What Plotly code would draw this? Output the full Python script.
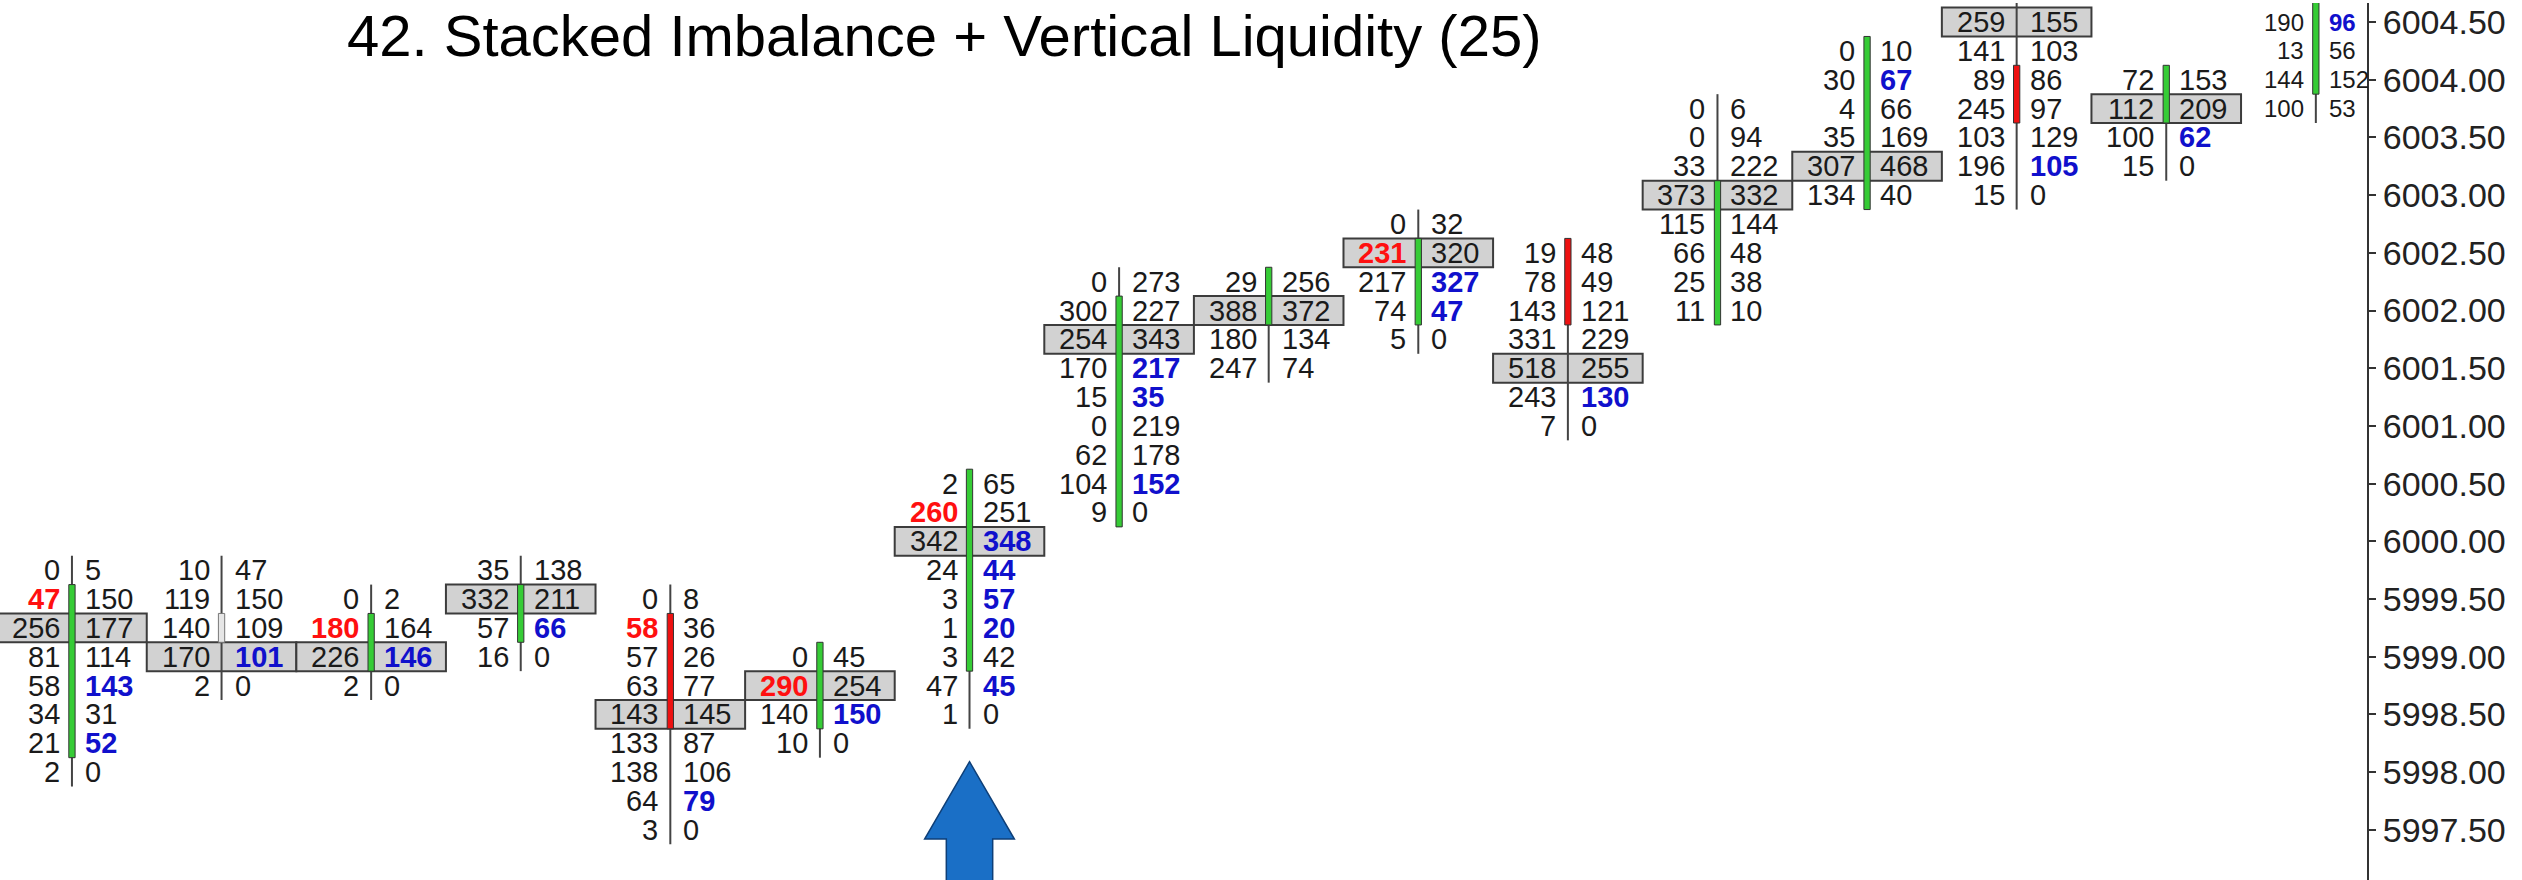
import plotly.graph_objects as go

TITLE = "42. Stacked Imbalance + Vertical Liquidity (25)"
TICK = 0.25

# price of the first (top) row of each footprint column
COL_TOP = [5999.75, 5999.75, 5999.50, 5999.75, 5999.50, 5999.00, 6000.50, 6002.25,
           6002.25, 6002.75, 6002.50, 6003.75, 6004.25, 6004.50, 6004.00, 6004.50]

BIDS = [
    [0, 47, 256, 81, 58, 34, 21, 2],
    [10, 119, 140, 170, 2],
    [0, 180, 226, 2],
    [35, 332, 57, 16],
    [0, 58, 57, 63, 143, 133, 138, 64, 3],
    [0, 290, 140, 10],
    [2, 260, 342, 24, 3, 1, 3, 47, 1],
    [0, 300, 254, 170, 15, 0, 62, 104, 9],
    [29, 388, 180, 247],
    [0, 231, 217, 74, 5],
    [19, 78, 143, 331, 518, 243, 7],
    [0, 0, 33, 373, 115, 66, 25, 11],
    [0, 30, 4, 35, 307, 134],
    [259, 141, 89, 245, 103, 196, 15],
    [72, 112, 100, 15],
    [190, 13, 144, 100],
]
ASKS = [
    [5, 150, 177, 114, 143, 31, 52, 0],
    [47, 150, 109, 101, 0],
    [2, 164, 146, 0],
    [138, 211, 66, 0],
    [8, 36, 26, 77, 145, 87, 106, 79, 0],
    [45, 254, 150, 0],
    [65, 251, 348, 44, 57, 20, 42, 45, 0],
    [273, 227, 343, 217, 35, 219, 178, 152, 0],
    [256, 372, 134, 74],
    [32, 320, 327, 47, 0],
    [48, 49, 121, 229, 255, 130, 0],
    [6, 94, 222, 332, 144, 48, 38, 10],
    [10, 67, 66, 169, 468, 40],
    [155, 103, 86, 97, 129, 105, 0],
    [153, 209, 62, 0],
    [96, 56, 152, 53],
]
# point of control (highlighted row) per column, None = not visible
POC = [5999.25, 5999.00, 5999.00, 5999.50, 5998.50, 5998.75, 6000.00, 6001.75,
       6002.00, 6002.50, 6001.50, 6003.00, 6003.25, 6004.50, 6003.75, None]

OPEN = [5998.25, 5999.25, 5999.00, 5999.25, 5999.25, 5998.50, 5999.00, 6000.25,
        6002.00, 6002.00, 6002.50, 6002.00, 6003.00, 6004.00, 6003.75, 6004.00]
CLOSE = [5999.50, 5999.25, 5999.25, 5999.50, 5998.50, 5999.00, 6000.50, 6002.00,
         6002.25, 6002.50, 6002.00, 6003.00, 6004.25, 6003.75, 6004.00, 6004.75]
HIGH = [5999.75, 5999.75, 5999.50, 5999.75, 5999.50, 5999.00, 6000.50, 6002.25,
        6002.25, 6002.75, 6002.50, 6003.75, 6004.25, 6004.75, 6004.00, 6004.75]
LOW = [5998.00, 5998.75, 5998.75, 5999.00, 5997.50, 5998.25, 5998.50, 6000.25,
       6001.50, 6001.75, 6001.00, 6002.00, 6003.00, 6003.00, 6003.25, 6003.75]

# highlighted (imbalance) rows, as indexes into each column's rows
RED_BID_ROWS = [[1], [], [1], [], [1], [1], [1], [], [], [1], [], [], [], [], [], []]
BLUE_ASK_ROWS = [[4, 6], [3], [2], [2], [7], [2], [2, 3, 4, 5, 7], [3, 4, 7], [],
                 [2, 3], [5], [], [1], [5], [2], [0]]

ARROW_COL = 6
ARROW_TIP = 5998.09

# ---- styles ----
FONT = "Liberation Sans, Arial, sans-serif"
TXT = "#1a1a1a"
RED = "#ff1010"
BLUE = "#1010cc"
GREEN = "#36cc36"
CANDLE_RED = "#ee1111"
EDGE = "#333333"
BOX_FILL = "#d2d2d2"
BOX_EDGE = "#3c3c3c"

fig = go.Figure()
fig.add_trace(go.Scatter(x=[0], y=[6000], mode="markers", marker=dict(opacity=0),
                         showlegend=False, hoverinfo="skip"))

shapes = []
annotations = []
n_cols = len(BIDS)
for i in range(n_cols):
    if POC[i] is not None:
        shapes.append(dict(type="rect", xref="x", yref="y", x0=i - 0.5, x1=i + 0.5,
                           y0=POC[i] - TICK / 2, y1=POC[i] + TICK / 2,
                           fillcolor=BOX_FILL, line=dict(color=BOX_EDGE, width=2)))
for i in range(n_cols):
    shapes.append(dict(type="line", xref="x", yref="y", x0=i, x1=i,
                       y0=LOW[i] - TICK / 2, y1=HIGH[i] + TICK / 2,
                       line=dict(color="#444444", width=2)))
    top = max(OPEN[i], CLOSE[i])
    bot = min(OPEN[i], CLOSE[i])
    if CLOSE[i] > OPEN[i]:
        fill, edge = GREEN, EDGE
    elif CLOSE[i] < OPEN[i]:
        fill, edge = CANDLE_RED, EDGE
    else:
        fill, edge = "#e6e6e6", "#777777"
    shapes.append(dict(type="rect", xref="x", yref="y", x0=i - 0.021, x1=i + 0.021,
                       y0=bot - TICK / 2, y1=top + TICK / 2,
                       fillcolor=fill, line=dict(color=edge, width=1)))

for i in range(n_cols):
    size = 24 if i == n_cols - 1 else 29
    for r, (b, a) in enumerate(zip(BIDS[i], ASKS[i])):
        p = COL_TOP[i] - r * TICK
        if r in RED_BID_ROWS[i]:
            bf = dict(family=FONT, size=size, color=RED, weight="bold")
        else:
            bf = dict(family=FONT, size=size, color=TXT)
        if r in BLUE_ASK_ROWS[i]:
            af = dict(family=FONT, size=size, color=BLUE, weight="bold")
        else:
            af = dict(family=FONT, size=size, color=TXT)
        annotations.append(dict(x=i, y=p, xref="x", yref="y", text=str(b), showarrow=False,
                                xanchor="right", yanchor="middle", xshift=-10, font=bf))
        annotations.append(dict(x=i, y=p, xref="x", yref="y", text=str(a), showarrow=False,
                                xanchor="left", yanchor="middle", xshift=11, font=af))

# blue arrow under the highlighted column
hw, sw = 0.30, 0.155
base = ARROW_TIP - 0.67
bottom = ARROW_TIP - 1.6
c = ARROW_COL
path = (f"M {c},{ARROW_TIP} L {c + hw},{base} L {c + sw},{base} L {c + sw},{bottom} "
        f"L {c - sw},{bottom} L {c - sw},{base} L {c - hw},{base} Z")
shapes.append(dict(type="path", xref="x", yref="y", path=path,
                   fillcolor="#1a6fc6", line=dict(color="#0e3f78", width=1.5)))

annotations.append(dict(x=0.399, y=0.9635, xref="paper", yref="paper", text=TITLE,
                        showarrow=False, xanchor="center", yanchor="middle",
                        font=dict(family=FONT, size=58, color="#000000")))

fig.update_layout(
    width=2522, height=880,
    margin=dict(l=0, r=155, t=3, b=0),
    paper_bgcolor="white", plot_bgcolor="white",
    showlegend=False,
    shapes=shapes, annotations=annotations,
    xaxis=dict(visible=False, range=[-0.481, 15.342], fixedrange=True),
    yaxis=dict(side="right", range=[5997.065, 6004.665], dtick=0.5, tick0=5997,
               tickformat=".2f", showgrid=False, zeroline=False,
               showline=True, linecolor=EDGE, linewidth=2,
               ticks="outside", ticklen=7, tickwidth=2, tickcolor=EDGE,
               tickfont=dict(family=FONT, size=34, color="#222222"),
               automargin=False, fixedrange=True),
)

fig.write_html("out.html", config={"displayModeBar": False},
               post_script="document.body.style.margin='0';document.body.style.overflow='hidden';")
